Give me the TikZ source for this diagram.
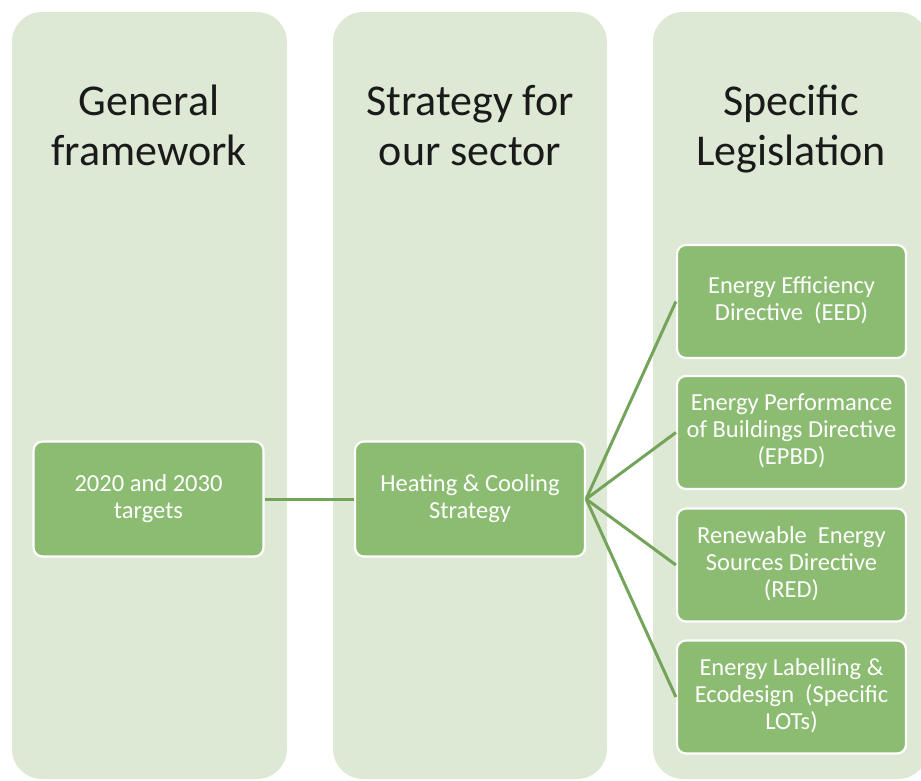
\documentclass[tikz,border=0pt]{standalone}
\usepackage{fontspec}
\setmainfont{Carlito}
\definecolor{panelbg}{HTML}{DDE8D5}
\definecolor{boxfill}{HTML}{8CBC72}
\definecolor{linkgreen}{HTML}{74A35A}
\definecolor{headtext}{HTML}{1A1A1A}
% line strut for the box labels
\newcommand{\boxstrut}{\rule[-6pt]{0pt}{27pt}}
\begin{document}
\begin{tikzpicture}[x=1pt,y=-1pt,
  panel/.style={fill=panelbg, rounded corners=30pt},
  item/.style={draw=white, line width=2.2pt, fill=boxfill, rounded corners=9pt,
    text=white, align=center, font=\fontsize{24.5}{27}\selectfont,
    minimum width=229pt, minimum height=113pt, inner sep=0pt,
    execute at begin node=\boxstrut, execute at end node=\boxstrut},
  heading/.style={text=headtext, align=center, font=\fontsize{44}{50}\selectfont,
    inner sep=0pt, anchor=base},
  link/.style={draw=linkgreen, line width=3pt}]
\useasboundingbox (0,0) rectangle (921,780);
\clip (0,0) rectangle (921,780);

% three column panels
\path[panel] (12,12) rectangle (287,779);
\path[panel] (333,12) rectangle (607,779);
\path[panel] (653,12) rectangle (928,779);

% column headings (anchored on the baseline of the second line)
\node[heading] (h1) at (149,165) {General\\framework};
\node[heading] (h2) at (470,165) {Strategy for\\our sector};
\node[heading] (h3) at (791,165) {Specific\\Legislation};

% boxes
\node[item, minimum width=230pt, minimum height=115pt] (targets) at (148.5,499) {2020 and 2030\\targets};
\node[item, minimum width=230pt, minimum height=115pt] (heat) at (470,499) {Heating \& Cooling\\Strategy};
\node[item] (eed)  at (791.5,301.5) {Energy Efficiency\\Directive\ \ (EED)};
\node[item] (epbd) at (791.5,432.5) {Energy Performance\\of Buildings Directive\\(EPBD)};
\node[item] (red)  at (791.5,565)   {Renewable\ \ Energy\\Sources Directive\\(RED)};
\node[item] (lab)  at (791.5,697)   {Energy Labelling \&\\Ecodesign\ \ (Specific\\LOTs)};

% connectors
\draw[link] (targets.east) -- (heat.west);
\foreach \t in {eed,epbd,red,lab}
  \draw[link] (heat.east) -- (\t.west);
\end{tikzpicture}
\end{document}
